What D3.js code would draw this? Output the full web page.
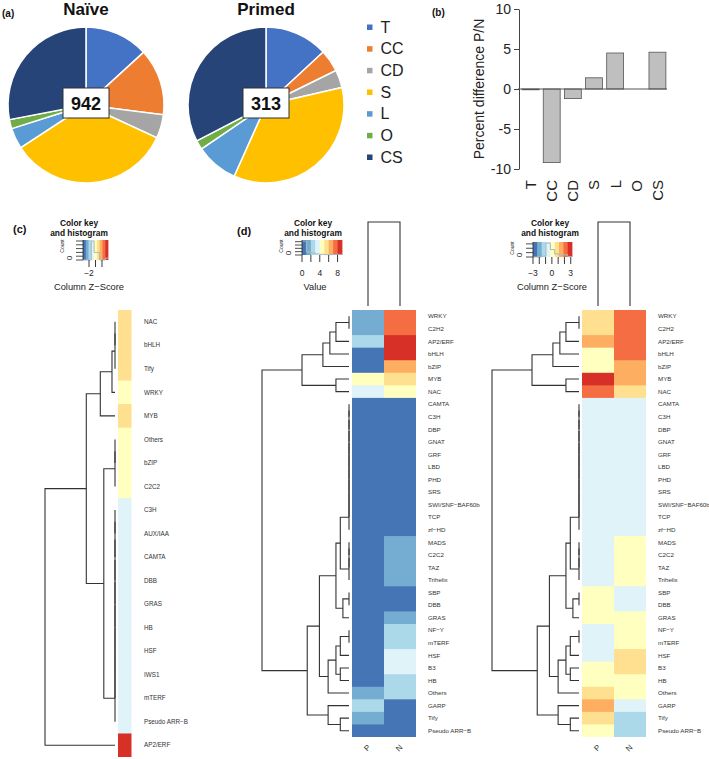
<!DOCTYPE html>
<html>
<head>
<meta charset="utf-8">
<script src="https://cdn.jsdelivr.net/npm/d3@7"></script>
<style>
  body { margin: 0; background: #fff; }
  svg { font-family: "Liberation Sans", Arial, Helvetica, sans-serif; }
</style>
</head>
<body>
<script>
// ---- data ----
const groups = ["T", "CC", "CD", "S", "L", "O", "CS"];
const groupColors = ["#4472C4", "#ED7D31", "#A5A5A5", "#FFC000", "#5B9BD5", "#70AD47", "#264478"];
const naivePct = [13.2, 13.8, 4.9, 33.9, 4.3, 1.9, 28.0];
const primedPct = [13.1, 4.6, 3.7, 35.3, 8.8, 1.9, 32.6];
const totals = [942, 313];
const diffPct = [-0.1, -9.2, -1.2, 1.4, 4.5, 0, 4.6];
const diffTicks = [-10, -5, 0, 5, 10];

const palette = ["#4575b4", "#74add1", "#abd9e9", "#e0f3f8", "#ffffbf", "#fee090", "#fdae61", "#f46d43", "#d73027"];

// (c) single column z-score heatmap
const rowsC = ["NAC", "bHLH", "Tify", "WRKY", "MYB", "Others", "bZIP", "C2C2", "C3H", "AUX/IAA", "CAMTA",
  "DBB", "GRAS", "HB", "HSF", "IWS1", "mTERF", "Pseudo ARR−B", "AP2/ERF"];
const zC = [0.8, 0.8, 0.8, 0.1, 0.8, 0.1, 0.1, 0.1, -0.5, -0.5, -0.5, -0.5, -0.5, -0.5, -0.5, -0.5, -0.5, -0.5, 3.9];
const zCDomain = [-3.85, 3.85];

// (d) two-column heatmaps
const rowsD = ["WRKY", "C2H2", "AP2/ERF", "bHLH", "bZIP", "MYB", "NAC", "CAMTA", "C3H", "DBP", "GNAT", "GRF",
  "LBD", "PHD", "SRS", "SWI/SNF−BAF60b", "TCP", "zf−HD", "MADS", "C2C2", "TAZ", "Trihelix", "SBP", "DBB",
  "GRAS", "NF−Y", "mTERF", "HSF", "B3", "HB", "Others", "GARP", "Tify", "Pseudo ARR−B"];
const cols = ["P", "N"];
const valP = [1, 1, 2, 0, 0, 4, 3, 0, 0, 0, 0, 0, 0, 0, 0, 0, 0, 0, 0, 0, 0, 0, 0, 0, 0, 0, 0, 0, 0, 0, 1, 2, 1, 0];
const valN = [7, 7, 8, 8, 6, 5, 4, 0, 0, 0, 0, 0, 0, 0, 0, 0, 0, 0, 1, 1, 1, 1, 0, 0, 1, 2, 2, 3, 3, 2, 2, 0, 0, 0];
const valDomain = [0, 9];
const zP = [0.8, 0.8, 1.5, 0.1, 0.1, 2.9, 2.2, -0.6, -0.6, -0.6, -0.6, -0.6, -0.6, -0.6, -0.6, -0.6, -0.6, -0.6,
  -0.6, -0.6, -0.6, -0.6, 0.1, 0.1, 0.1, -0.6, -0.6, -0.6, 0.1, 0.1, 0.8, 1.5, 0.8, 0.1];
const zN = [2.2, 2.2, 2.2, 2.2, 1.5, 1.5, 0.8, -0.6, -0.6, -0.6, -0.6, -0.6, -0.6, -0.6, -0.6, -0.6, -0.6, -0.6,
  0.1, 0.1, 0.1, 0.1, -0.6, -0.6, 0.1, 0.1, 0.1, 0.8, 0.8, 0.1, 0.1, -0.6, -1.3, -1.3];
const zDDomain = [-3, 3.2];

// dendrograms: [height, left, right]
const chain = names => names.slice(1).reduce((acc, n) => [0, acc, n], names[0]);
const treeC = [10,
  [4.1,
    [2.1, [0.43, chain(["NAC", "bHLH", "Tify"]), "WRKY"], "MYB"],
    [1.6, chain(["Others", "bZIP", "C2C2"]),
      chain(["C3H", "AUX/IAA", "CAMTA", "DBB", "GRAS", "HB", "HSF", "IWS1", "mTERF", "Pseudo ARR−B"])]],
  "AP2/ERF"];
const treeD = [10,
  [5.4, [3.0, [2.2, [1.5, [0, "WRKY", "C2H2"], "AP2/ERF"], "bHLH"], "bZIP"], [1.5, "MYB", "NAC"]],
  [4.8,
    [3.4,
      [1.5,
        [1.0, chain(["CAMTA", "C3H", "DBP", "GNAT", "GRF", "LBD", "PHD", "SRS", "SWI/SNF−BAF60b", "TCP", "zf−HD"]),
          chain(["MADS", "C2C2", "TAZ", "Trihelix"])],
        [0.7, [0, "SBP", "DBB"], "GRAS"]],
      [2.4, [1.5, [1.0, [0, "NF−Y", "mTERF"], "HSF"], [1.0, "B3", "HB"]], "Others"]],
    [2.4, "GARP", [1.0, "Tify", "Pseudo ARR−B"]]]];
const colTree = [10, "P", "N"];

// ---- drawing ----
const svg = d3.select("body").append("svg").attr("width", 709).attr("height", 759);

function label(x, y, t, size, bold) {
  return svg.append("text").attr("x", x).attr("y", y).attr("font-size", size)
    .attr("font-weight", bold ? "bold" : "normal").attr("fill", "#111").text(t);
}

// (a) pies
label(2, 17, "(a)", 10, true);
const pieGen = d3.pie().sort(null).value(d => d);
const arcGen = d3.arc().innerRadius(0).outerRadius(78);
[{ title: "Naïve", pct: naivePct, n: totals[0], cx: 86 },
 { title: "Primed", pct: primedPct, n: totals[1], cx: 266 }].forEach(p => {
  const g = svg.append("g").attr("transform", `translate(${p.cx},105)`);
  g.selectAll("path").data(pieGen(p.pct)).join("path")
    .attr("d", arcGen)
    .attr("fill", (d, i) => groupColors[i])
    .attr("stroke", "#fff").attr("stroke-width", 1.5);
  g.append("rect").attr("x", -23).attr("y", -17).attr("width", 46).attr("height", 30)
    .attr("fill", "#fff").attr("stroke", "#333").attr("stroke-width", 1);
  g.append("text").attr("y", 4.5).attr("text-anchor", "middle")
    .attr("font-size", 18).attr("font-weight", "bold").attr("fill", "#111").text(p.n);
  label(p.cx, 15, p.title, 17, true).attr("text-anchor", "middle");
});

// legend
const legY = d3.scalePoint().domain(groups).range([27, 157]);
groups.forEach((k, i) => {
  svg.append("rect").attr("x", 367).attr("y", legY(k) - 2.5).attr("width", 5.5).attr("height", 5.5)
    .attr("fill", groupColors[i]);
  label(380.5, legY(k) + 5.8, k, 16, false).attr("fill", "#222");
});

// (b) bar chart
label(432, 16, "(b)", 10, true);
const xB = d3.scaleBand().domain(groups).range([520, 668]).paddingInner(0.2).paddingOuter(0.1);
const yB = d3.scaleLinear().domain([-10, 10]).range([169, 9]);
const axB = svg.append("g").attr("transform", "translate(519,0)")
  .call(d3.axisLeft(yB).tickValues(diffTicks).tickSize(5).tickSizeOuter(0).tickFormat(d => String(d)));
axB.select(".domain").attr("stroke", "#444");
axB.selectAll(".tick line").attr("stroke", "#444");
axB.selectAll("text").attr("font-size", 14).attr("fill", "#222").attr("font-family", null).attr("x", -8);
svg.append("text").attr("transform", `translate(484,${(yB(10) + yB(-10)) / 2}) rotate(-90)`)
  .attr("text-anchor", "middle").attr("font-size", 14).attr("fill", "#222").text("Percent difference P/N");
svg.selectAll("rect.bar").data(diffPct).join("rect").attr("class", "bar")
  .attr("x", (d, i) => xB(groups[i]))
  .attr("width", xB.bandwidth())
  .attr("y", d => yB(Math.max(0, d)))
  .attr("height", d => Math.abs(yB(d) - yB(0)))
  .attr("fill", "#bfbfbf").attr("stroke", "#555").attr("stroke-width", 0.8);
svg.append("line").attr("x1", 518).attr("x2", 667).attr("y1", yB(0)).attr("y2", yB(0))
  .attr("stroke", "#555").attr("stroke-width", 1);
groups.forEach(k => {
  svg.append("text").attr("transform", `translate(${xB(k) + xB.bandwidth() / 2},180) rotate(-90)`)
    .attr("text-anchor", "end").attr("dy", "0.36em").attr("font-size", 15).attr("fill", "#222").text(k);
});

// colour keys
function drawKey(o) {
  const g = svg.append("g");
  const x = d3.scaleLinear().domain(o.domain).range([o.x0, o.x1]);
  const q = d3.scaleQuantize().domain(o.domain).range(palette);
  const edges = [o.domain[0], ...q.thresholds(), o.domain[1]];
  g.selectAll("rect").data(palette).join("rect")
    .attr("x", (d, i) => x(edges[i]))
    .attr("width", (d, i) => x(edges[i + 1]) - x(edges[i]) + 0.4)
    .attr("y", o.y0).attr("height", o.y1 - o.y0).attr("fill", d => d);
  const vals = o.values.map(v => Math.max(o.domain[0], Math.min(o.domain[1], v)));
  const bins = d3.bin().domain(o.domain).thresholds(q.thresholds())(vals);
  const yc = d3.scaleLinear().domain([0, d3.max(bins, b => b.length)]).range([o.y1, o.y0 + 1]);
  const pts = [];
  bins.forEach(b => { pts.push([x(b.x0), yc(b.length)], [x(b.x1), yc(b.length)]); });
  g.append("path").attr("d", d3.line()(pts)).attr("fill", "none")
    .attr("stroke", "#a9b9bf").attr("stroke-width", 1);
  yc.ticks(4).forEach(t => {
    g.append("line").attr("x1", o.x0 - 7).attr("x2", o.x0).attr("y1", yc(t)).attr("y2", yc(t))
      .attr("stroke", "#222").attr("stroke-width", 0.8);
  });
  g.append("line").attr("x1", o.x0).attr("x2", o.x0).attr("y1", o.y0).attr("y2", o.y1)
    .attr("stroke", "#222").attr("stroke-width", 0.8);
  g.append("text").attr("transform", `translate(${o.x0 - 19},${o.y0 + 6}) rotate(-90)`)
    .attr("text-anchor", "middle").attr("font-size", 5).attr("fill", "#222").text("Count");
  g.append("text").attr("transform", `translate(${o.x0 - 11},${o.y1 - 2}) rotate(-90)`)
    .attr("text-anchor", "middle").attr("font-size", 8).attr("fill", "#222").text("0");
  o.ticks.forEach(t => {
    g.append("line").attr("x1", x(t)).attr("x2", x(t)).attr("y1", o.y1).attr("y2", o.y1 + 7)
      .attr("stroke", "#222").attr("stroke-width", 0.9);
  });
  o.labels.forEach(t => {
    g.append("text").attr("x", x(t)).attr("y", 276).attr("text-anchor", "middle")
      .attr("font-size", 8.5).attr("fill", "#222").text(t < 0 ? "−" + Math.abs(t) : String(t));
  });
  g.append("text").attr("x", o.tx).attr("y", 226).attr("text-anchor", "middle")
    .attr("font-size", 8.4).attr("font-weight", "bold").attr("fill", "#111").text("Color key");
  g.append("text").attr("x", o.tx).attr("y", 236).attr("text-anchor", "middle")
    .attr("font-size", 8.4).attr("font-weight", "bold").attr("fill", "#111").text("and histogram");
  g.append("text").attr("x", o.ax).attr("y", 290).attr("text-anchor", "middle")
    .attr("font-size", 9.3).attr("fill", "#222").text(o.title);
  return q;
}

function drawTree(tree, pos, pt) {
  const g = svg.append("g").attr("fill", "none").attr("stroke", "#333").attr("stroke-width", 1.1);
  function walk(node) {
    if (typeof node === "string") return { p: pos(node), h: 0 };
    const [h, a, b] = node;
    const A = walk(a), B = walk(b);
    const p1 = pt(A.p, A.h), p2 = pt(A.p, h), p3 = pt(B.p, h), p4 = pt(B.p, B.h);
    g.append("path").attr("d", `M${p1}L${p2}L${p3}L${p4}`);
    return { p: (A.p + B.p) / 2, h };
  }
  walk(tree);
}

// cell height with a small overlap so that rows have no seams
const cellH = (scale, d, rows) => scale.bandwidth() + (d === rows[rows.length - 1] ? 0 : 1);

// (c)
label(13, 233, "(c)", 11, true);
const qC = drawKey({ x0: 83, x1: 108, y0: 240, y1: 260, domain: zCDomain, ticks: [-2, 0, 2], labels: [-2],
  values: zC, tx: 79, ax: 89, title: "Column Z−Score" });
const yC = d3.scaleBand().domain(rowsC).range([310, 757]);
svg.selectAll("rect.cellC").data(rowsC).join("rect").attr("class", "cellC")
  .attr("x", 118).attr("width", 13.5).attr("y", d => yC(d)).attr("height", d => cellH(yC, d, rowsC))
  .attr("fill", (d, i) => qC(zC[i]));
rowsC.forEach(r => {
  label(144, yC(r) + yC.bandwidth() / 2 + 2.2, r, 6.3, false).attr("fill", "#333");
});
const hC = d3.scaleLinear().domain([0, 10]).range([115, 45]);
drawTree(treeC, r => yC(r) + yC.bandwidth() / 2, (p, h) => [hC(h), p]);

// (d)
label(237, 235, "(d)", 11, true);
const qV = drawKey({ x0: 302, x1: 342, y0: 240, y1: 255, domain: valDomain, ticks: [0, 2, 4, 6, 8],
  labels: [0, 4, 8], values: valP.concat(valN), tx: 313, ax: 315, title: "Value" });
const qZ = drawKey({ x0: 533, x1: 572, y0: 242, y1: 257, domain: zDDomain, ticks: [-3, -2, -1, 0, 1, 2, 3],
  labels: [-3, 0, 3], values: zP.concat(zN), tx: 550, ax: 552, title: "Column Z−Score" });

const yD = d3.scaleBand().domain(rowsD).range([310, 737]);
const hRow = d3.scaleLinear().domain([0, 10]).range([349, 262]);
const hCol = d3.scaleLinear().domain([0, 10]).range([306, 222]);

[{ left: 352, p: valP, n: valN, q: qV, shift: 0 },
 { left: 582, p: zP, n: zN, q: qZ, shift: 230 }].forEach(hm => {
  const xD = d3.scaleBand().domain(cols).range([hm.left, hm.left + 64]);
  cols.forEach(c => {
    const vals = c === "P" ? hm.p : hm.n;
    svg.append("g").selectAll("rect").data(rowsD).join("rect")
      .attr("x", xD(c)).attr("width", xD.bandwidth() + (c === "P" ? 0.6 : 0))
      .attr("y", d => yD(d)).attr("height", d => cellH(yD, d, rowsD))
      .attr("fill", (d, i) => hm.q(vals[i]));
    svg.append("text")
      .attr("transform", `translate(${xD(c) + xD.bandwidth() / 2 + 3},748) rotate(-45)`)
      .attr("text-anchor", "end").attr("font-size", 8).attr("fill", "#333").text(c);
  });
  rowsD.forEach(r => {
    label(hm.left + 76, yD(r) + yD.bandwidth() / 2 + 2.2, r, 6.2, false).attr("fill", "#333");
  });
  drawTree(treeD, r => yD(r) + yD.bandwidth() / 2, (p, h) => [hRow(h) + hm.shift, p]);
  drawTree(colTree, c => xD(c) + xD.bandwidth() / 2, (p, h) => [p, hCol(h)]);
});
</script>
</body>
</html>
